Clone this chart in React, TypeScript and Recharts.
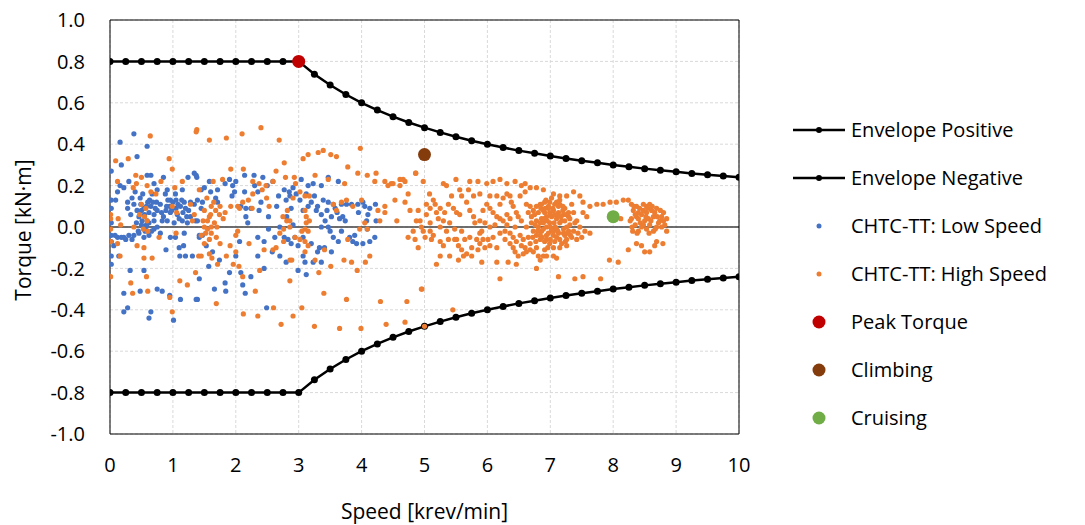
import React from 'react';
import { ScatterChart, Scatter, XAxis, YAxis, CartesianGrid, ReferenceLine, Label } from 'recharts';

const envelopeSpeed = [0, 0.25, 0.5, 0.75, 1, 1.25, 1.5, 1.75, 2, 2.25, 2.5, 2.75, 3, 3.25, 3.5, 3.75, 4, 4.25, 4.5, 4.75, 5, 5.25, 5.5, 5.75, 6, 6.25, 6.5, 6.75, 7, 7.25, 7.5, 7.75, 8, 8.25, 8.5, 8.75, 9, 9.25, 9.5, 9.75, 10];
const envelopePositive = [0.8, 0.8, 0.8, 0.8, 0.8, 0.8, 0.8, 0.8, 0.8, 0.8, 0.8, 0.8, 0.8, 0.738, 0.686, 0.64, 0.6, 0.565, 0.533, 0.505, 0.48, 0.457, 0.436, 0.417, 0.4, 0.384, 0.369, 0.356, 0.343, 0.331, 0.32, 0.31, 0.3, 0.291, 0.282, 0.274, 0.267, 0.259, 0.253, 0.246, 0.24];
const envelopeNegative = [-0.8, -0.8, -0.8, -0.8, -0.8, -0.8, -0.8, -0.8, -0.8, -0.8, -0.8, -0.8, -0.8, -0.738, -0.686, -0.64, -0.6, -0.565, -0.533, -0.505, -0.48, -0.457, -0.436, -0.417, -0.4, -0.384, -0.369, -0.356, -0.343, -0.331, -0.32, -0.31, -0.3, -0.291, -0.282, -0.274, -0.267, -0.259, -0.253, -0.246, -0.24];

const lowSpeedTorque: [number, number][] = [
  [0.38, 0.45], [0.16, 0.41], [0.59, 0.39], [0.18, 0.30], [0.43, 0.34], [0.02, 0.27], [0.59, 0.25], [0.65, 0.25], [0.85, 0.24], [1.34, 0.26],
  [1.38, 0.24], [1.24, 0.24], [0.22, 0.19], [0.12, 0.17], [0.02, 0.13], [0.09, 0.13], [0.28, 0.12], [0.38, 0.11], [0.49, 0.11], [0.70, 0.21],
  [0.75, 0.18], [0.67, 0.16], [0.91, 0.18], [0.96, 0.13], [1.04, 0.16], [1.15, 0.18], [1.18, 0.12], [1.28, 0.12], [1.34, 0.11], [1.39, 0.13],
  [0.28, 0.09], [0.43, 0.08], [0.54, 0.09], [0.65, 0.10], [0.75, 0.08], [0.89, 0.08], [0.96, 0.07], [1.07, 0.06], [1.20, 0.09], [1.28, 0.05],
  [1.36, 0.03], [0.46, 0.05], [0.51, 0.03], [0.59, 0.03], [0.57, 0.00], [0.70, 0.03], [0.83, 0.03], [0.91, 0.03], [1.02, 0.02], [1.15, 0.03],
  [1.23, 0.02], [0.12, -0.05], [0.22, -0.05], [0.30, -0.04], [0.38, -0.04], [0.46, -0.03], [0.54, -0.05], [0.62, -0.04], [0.70, -0.01], [0.96, -0.05],
  [1.04, -0.05], [1.18, -0.03], [0.02, -0.04], [0.02, -0.14], [0.02, -0.18], [0.14, -0.14], [0.32, -0.21], [0.54, -0.21], [0.89, -0.11], [1.10, -0.10],
  [1.17, -0.09], [1.11, -0.14], [1.20, -0.14], [1.31, -0.14], [0.22, -0.32], [0.48, -0.31], [0.75, -0.30], [0.83, -0.31], [0.95, -0.33], [1.12, -0.35],
  [1.39, -0.35], [0.28, -0.39], [0.22, -0.41], [0.65, -0.41], [0.62, -0.44], [1.01, -0.45], [0.02, 0.09], [0.02, 0.02], [1.42, -0.05],
  [0.55, 0.06], [0.60, 0.12], [0.62, 0.07], [0.48, 0.14], [0.70, 0.06], [0.80, 0.11], [0.85, 0.05], [0.95, 0.10], [1.00, 0.12], [1.05, 0.09],
  [1.10, 0.04], [1.12, 0.10], [1.16, 0.07], [1.22, 0.05], [1.05, 0.13], [0.92, 0.13], [0.40, 0.17], [0.33, 0.06], [0.58, 0.01], [0.66, -0.02],
  [0.45, -0.02], [0.06, -0.09], [0.02, -0.07], [0.16, 0.20], [0.30, 0.22], [0.35, 0.14], [0.52, 0.16], [0.63, 0.13], [0.74, 0.12], [0.88, 0.16],
  [0.50, 0.08], [0.58, 0.10], [0.68, 0.12], [0.72, 0.09], [0.82, 0.07], [0.90, 0.10], [0.98, 0.08], [1.08, 0.11], [1.14, 0.13], [1.25, 0.08],
  [0.56, -0.02], [0.62, 0.02], [0.50, 0.01], [0.42, 0.02], [0.75, 0.00], [0.80, -0.03], [0.35, -0.06], [0.25, -0.06], [0.18, -0.05], [0.08, -0.04],
  [1.37, 0.25], [1.58, 0.22], [1.50, 0.19], [1.45, 0.18], [1.71, 0.18], [1.90, 0.23], [1.83, 0.21], [2.00, 0.22], [2.14, 0.25], [2.29, 0.25],
  [2.43, 0.24], [2.59, 0.22], [2.35, 0.17], [1.98, 0.17], [1.94, 0.15], [2.14, 0.17], [1.68, 0.14], [1.71, 0.12], [1.47, 0.12], [1.45, 0.09],
  [1.39, 0.03], [2.08, 0.10], [2.16, 0.09], [2.24, 0.09], [2.37, 0.08], [2.16, 0.05], [2.19, 0.02], [2.52, 0.05], [2.52, -0.01], [2.68, 0.15],
  [2.80, 0.13], [2.77, 0.18], [2.85, 0.17], [2.81, 0.05], [2.77, -0.05], [2.83, -0.06], [1.42, -0.04], [1.47, -0.04], [1.53, -0.09], [1.63, -0.12],
  [1.74, -0.16], [2.06, -0.07], [2.35, -0.05], [2.45, -0.07], [2.00, -0.14], [2.58, -0.12], [2.70, -0.14], [2.80, -0.17], [2.35, -0.14], [2.45, -0.20],
  [1.57, -0.19], [1.42, -0.25], [1.90, -0.22], [2.08, -0.22], [1.83, -0.27], [1.84, -0.31], [2.11, -0.28], [2.15, -0.32], [2.24, -0.24], [1.66, -0.30],
  [1.37, -0.35], [2.49, -0.39], [2.30, 0.20], [2.50, 0.20], [1.95, 0.20], [1.60, 0.17], [2.65, 0.10], [2.70, 0.00], [2.62, -0.05], [2.40, 0.12],
  [3.04, 0.23], [2.91, 0.19], [2.96, 0.16], [3.15, 0.20], [3.23, 0.21], [3.36, 0.20], [3.63, 0.22], [3.47, 0.24], [2.86, 0.15], [2.88, 0.09],
  [3.02, 0.13], [3.12, 0.16], [3.25, 0.15], [3.39, 0.13], [3.47, 0.12], [3.55, 0.11], [3.68, 0.11], [3.76, 0.11], [3.84, 0.11], [3.94, 0.11],
  [4.05, 0.10], [4.13, 0.09], [4.22, 0.11], [4.10, 0.06], [4.08, 0.03], [4.09, -0.01], [4.23, 0.03], [4.21, -0.05], [3.07, 0.08], [3.15, 0.10],
  [3.28, 0.08], [3.36, 0.06], [3.42, 0.03], [3.47, 0.00], [3.52, 0.05], [3.61, 0.07], [3.70, 0.05], [3.74, 0.03], [3.68, -0.02], [3.63, -0.07],
  [3.81, -0.05], [3.89, -0.04], [3.92, -0.08], [4.02, -0.08], [4.13, -0.07], [2.91, 0.01], [2.94, -0.05], [2.99, -0.09], [2.88, -0.08], [3.07, -0.05],
  [3.07, -0.14], [3.10, -0.17], [3.23, -0.17], [3.36, -0.17], [3.33, -0.10], [3.41, -0.10], [3.52, -0.12], [2.99, -0.21], [3.12, -0.23], [3.36, 0.00],
  [3.20, 0.12], [3.30, 0.10], [3.45, 0.08], [3.58, 0.09], [3.65, 0.04], [3.50, -0.02], [3.55, -0.05], [3.30, -0.12], [3.20, -0.08], [3.95, 0.07],
  [4.02, 0.12], [3.86, -0.07],
];

const highSpeedTorque: [number, number][] = [
  [0.64, 0.44], [1.38, 0.47], [0.09, 0.32], [0.29, 0.33], [0.94, 0.33], [0.99, 0.28], [0.41, 0.25], [0.50, 0.24], [0.12, 0.22], [0.42, 0.21],
  [0.37, 0.19], [0.59, 0.20], [0.81, 0.22], [1.15, 0.22], [0.65, 0.17], [0.73, 0.16], [1.03, 0.19], [0.50, 0.11], [0.57, 0.09], [0.01, 0.06],
  [0.01, 0.04], [0.13, 0.04], [0.17, 0.01], [0.38, 0.00], [0.53, -0.01], [0.59, 0.03], [0.99, 0.10], [1.06, 0.07], [1.28, 0.11], [1.34, 0.06],
  [1.31, 0.03], [0.01, -0.01], [0.01, -0.07], [0.12, -0.08], [0.43, -0.09], [0.54, -0.10], [0.54, -0.15], [0.67, -0.15], [0.78, -0.05], [1.05, -0.03],
  [0.16, -0.14], [0.01, -0.24], [0.58, -0.24], [0.33, -0.27], [1.11, -0.26], [1.23, -0.28], [1.36, -0.22], [0.36, -0.32], [0.60, -0.31], [0.95, -0.34],
  [0.99, -0.41], [1.41, -0.14], [0.55, 0.05], [0.60, -0.02], [0.47, 0.06],
  [1.37, 0.46], [1.58, 0.42], [1.85, 0.43], [2.10, 0.45], [2.40, 0.48], [2.69, 0.42], [1.92, 0.28], [2.12, 0.28], [2.77, 0.31], [2.64, 0.27],
  [1.64, 0.22], [1.79, 0.23], [2.27, 0.22], [2.37, 0.21], [2.48, 0.20], [2.42, 0.18], [2.59, 0.22], [2.79, 0.24], [1.42, 0.18], [1.54, 0.14],
  [2.49, 0.14], [2.27, 0.16], [2.20, 0.13], [2.11, 0.12], [2.03, 0.10], [1.92, 0.10], [1.61, 0.10], [1.68, 0.08], [1.75, 0.10], [1.83, 0.07],
  [1.74, 0.06], [1.80, 0.04], [1.58, 0.05], [1.55, 0.03], [1.50, 0.00], [1.61, 0.00], [1.66, 0.02], [1.52, -0.03], [1.61, -0.03], [1.69, -0.05],
  [1.58, -0.06], [1.45, -0.04], [1.48, 0.03], [2.06, 0.09], [2.26, 0.09], [2.53, 0.10], [2.03, -0.02], [2.00, -0.04], [1.91, -0.09], [2.00, -0.12],
  [2.21, -0.08], [1.45, -0.14], [1.58, -0.13], [1.71, -0.18], [1.85, -0.14], [1.96, -0.18], [2.05, -0.19], [2.11, -0.24], [2.38, -0.21], [2.45, -0.11],
  [2.59, -0.11], [2.64, -0.10], [2.76, -0.07], [2.76, -0.01], [2.81, 0.03], [2.86, -0.16], [2.86, -0.26], [2.31, -0.31], [1.69, -0.37], [2.12, -0.42],
  [2.35, -0.43], [2.60, -0.39], [2.72, -0.47], [1.50, 0.08], [1.60, 0.06], [1.65, 0.12], [1.55, -0.01], [1.70, 0.00], [1.75, -0.08], [1.50, -0.08],
  [1.62, -0.15], [2.75, 0.05], [2.70, -0.03], [2.82, 0.08],
  [3.07, 0.33], [3.15, 0.35], [3.31, 0.36], [3.39, 0.37], [3.51, 0.35], [3.60, 0.34], [3.98, 0.38], [3.78, 0.29], [3.94, 0.26], [4.09, 0.25],
  [4.23, 0.26], [4.21, 0.22], [4.37, 0.22], [4.47, 0.21], [4.42, 0.20], [3.26, 0.25], [3.47, 0.23], [3.73, 0.21], [2.93, 0.24], [2.95, 0.21],
  [3.02, 0.17], [2.91, 0.14], [3.10, 0.15], [3.17, 0.15], [3.10, 0.08], [3.12, 0.05], [3.17, 0.03], [3.10, -0.01], [3.15, -0.02], [2.86, 0.03],
  [2.86, 0.00], [3.55, 0.11], [3.60, 0.08], [3.68, 0.12], [3.76, 0.13], [3.86, 0.10], [4.00, 0.13], [4.26, 0.08], [4.37, 0.10], [4.29, 0.03],
  [4.37, 0.07], [4.05, 0.02], [3.97, -0.01], [4.09, -0.01], [3.78, -0.06], [2.94, -0.05], [3.02, -0.06], [3.10, -0.07], [3.15, -0.09], [3.10, -0.12],
  [3.41, -0.11], [3.26, -0.16], [2.89, -0.16], [3.51, -0.19], [3.72, -0.16], [3.84, -0.17], [3.93, -0.21], [4.06, -0.17], [4.13, -0.14], [3.32, -0.22],
  [3.40, -0.32], [3.76, -0.35], [4.30, -0.36], [3.05, -0.39], [2.91, -0.43], [3.25, -0.48], [3.65, -0.49], [3.99, -0.49], [4.39, -0.47],
  [3.12, 0.02], [3.05, -0.02],
  [4.50, 0.21], [4.61, 0.23], [4.69, 0.22], [4.61, 0.20], [4.86, 0.26], [4.98, 0.22], [5.08, 0.16], [5.30, 0.21], [5.35, 0.20], [5.50, 0.23],
  [5.56, 0.18], [5.72, 0.22], [5.85, 0.22], [5.99, 0.21], [6.09, 0.22], [6.20, 0.23], [6.31, 0.21], [6.44, 0.22], [6.54, 0.20], [6.60, 0.21],
  [6.68, 0.19], [6.78, 0.19], [6.89, 0.18], [7.05, 0.16], [7.15, 0.15], [7.26, 0.15], [7.37, 0.17], [7.47, 0.15], [7.52, 0.12],
  [7.63, 0.10], [7.74, 0.11], [7.84, 0.11], [7.95, 0.12], [8.05, 0.12], [8.16, 0.13], [8.24, 0.13], [8.29, 0.11], [7.52, 0.07], [7.58, 0.05],
  [7.63, -0.03], [8.12, 0.04],
  [8.32, 0.08], [8.37, 0.10], [8.48, 0.11], [8.58, 0.11], [8.69, 0.09], [8.80, 0.07], [8.85, 0.04], [8.29, 0.04], [8.37, 0.05], [8.45, 0.06],
  [8.53, 0.07], [8.64, 0.05], [8.74, 0.03], [8.35, 0.01], [8.43, 0.02], [8.50, 0.03], [8.58, 0.01], [8.69, 0.00], [8.77, 0.00], [8.31, -0.02],
  [8.40, -0.02], [8.53, -0.01], [8.64, -0.02], [8.85, -0.02], [8.48, 0.08], [8.56, 0.04], [8.66, 0.07], [8.40, 0.07], [8.72, 0.02], [8.27, 0.03],
  [8.61, 0.08], [8.48, 0.01], [8.80, 0.03], [8.35, 0.06], [8.53, 0.10], [8.33, 0.10], [8.42, 0.09], [8.55, 0.09], [8.62, 0.10], [8.70, 0.05],
  [8.77, 0.05], [8.82, 0.01], [8.30, 0.00], [8.45, 0.00], [8.60, 0.03], [8.40, 0.04], [8.52, 0.05], [8.67, -0.01], [8.75, 0.08], [8.38, -0.03],
  [8.57, -0.03],
  [8.24, -0.11], [8.37, -0.08], [8.45, -0.09], [8.50, -0.12], [8.58, -0.12], [8.66, -0.09], [8.69, -0.07], [8.79, -0.08], [7.94, -0.16], [8.08, -0.17],
  [6.20, -0.25], [6.78, -0.20], [7.13, -0.24], [7.39, -0.25], [7.52, -0.24], [7.80, -0.25], [4.95, -0.30], [5.19, -0.18], [5.91, -0.17], [6.15, -0.17],
  [6.33, -0.17], [6.46, -0.18], [6.62, -0.12],
  [4.69, 0.12], [4.74, 0.16], [4.90, 0.08], [4.93, 0.03], [4.87, 0.03], [5.09, 0.09], [5.03, 0.11], [5.14, 0.13], [5.17, 0.11], [5.25, 0.09],
  [5.32, 0.07], [5.38, 0.11], [5.43, 0.15], [5.46, 0.09], [5.51, 0.07], [5.56, 0.06], [5.59, 0.15], [5.67, 0.12], [5.72, 0.08], [5.78, 0.05],
  [5.80, 0.02], [5.88, 0.03], [5.93, 0.08], [4.95, 0.00], [4.98, -0.02], [5.01, -0.05], [5.14, -0.04], [5.11, -0.06], [5.25, -0.07], [5.30, -0.09],
  [5.38, -0.06], [5.48, -0.06], [5.54, -0.09], [5.59, -0.11], [5.67, -0.13], [5.75, -0.14], [5.85, -0.11], [5.59, -0.02], [5.48, -0.01], [5.35, -0.02],
  [5.25, 0.00], [5.09, 0.02], [5.22, 0.04], [5.30, 0.03], [5.40, 0.02], [5.19, 0.07], [5.51, -0.06], [5.64, -0.06], [5.72, -0.05], [5.83, -0.06],
  [5.88, -0.03], [5.09, -0.02], [5.03, 0.06], [4.82, -0.02], [4.85, -0.06], [5.40, -0.14], [5.54, -0.16], [5.62, -0.14], [5.75, -0.10],
  [4.56, 0.03], [4.77, 0.08], [4.74, -0.05], [4.90, -0.10], [5.25, -0.14], [4.53, 0.13],
  [5.99, 0.11], [6.04, 0.09], [6.09, 0.07], [6.15, 0.05], [6.20, 0.04], [6.25, 0.03], [6.31, 0.01], [6.28, -0.02], [6.20, -0.03], [6.09, -0.05],
  [6.01, -0.06], [5.93, -0.06], [6.04, 0.00], [5.96, 0.02], [5.91, -0.02], [6.12, 0.01], [6.36, -0.03], [6.41, -0.05], [6.46, -0.07], [6.54, -0.09],
  [6.60, -0.10], [6.68, -0.11], [6.73, -0.12], [6.81, -0.14], [6.89, -0.14], [6.52, -0.04], [6.57, -0.06], [6.41, -0.10], [6.36, -0.08], [6.28, -0.06],
  [6.31, 0.16], [6.36, 0.15], [6.38, 0.12], [6.41, 0.10], [6.46, 0.07], [6.49, 0.05], [6.54, 0.03], [6.52, 0.15], [6.60, 0.17], [6.62, 0.11],
  [6.68, 0.10], [6.20, 0.11], [6.25, 0.14], [6.15, 0.15], [6.04, 0.15], [5.88, 0.16], [5.78, 0.15], [5.70, 0.18], [6.36, 0.04], [6.44, 0.00],
  [6.31, 0.06], [6.15, -0.10], [6.04, -0.09], [5.96, -0.10], [5.88, -0.08],
  [6.73, 0.08], [6.78, 0.10], [6.84, 0.11], [6.91, 0.12], [6.99, 0.12], [7.07, 0.11], [7.15, 0.11], [7.23, 0.09], [7.29, 0.07], [7.31, 0.04],
  [7.31, 0.01], [7.29, -0.02], [7.23, -0.04], [7.15, -0.06], [7.07, -0.07], [6.99, -0.08], [6.91, -0.07], [6.84, -0.06], [6.78, -0.04], [6.73, -0.02],
  [6.70, 0.02], [6.70, 0.05], [6.81, 0.07], [6.89, 0.08], [6.97, 0.09], [7.05, 0.08], [7.13, 0.07], [7.21, 0.06], [7.23, 0.03], [7.21, -0.01],
  [7.13, -0.03], [7.05, -0.04], [6.94, -0.04], [6.86, -0.02], [6.81, 0.00], [6.78, 0.03], [6.86, 0.04], [6.94, 0.05], [7.02, 0.05], [7.10, 0.04],
  [7.15, 0.02], [7.10, -0.01], [7.02, -0.01], [6.94, 0.00], [6.89, 0.02], [6.99, 0.02], [7.06, 0.02], [6.91, 0.07], [7.18, -0.08], [7.26, -0.06],
  [7.34, -0.05], [7.37, -0.02], [7.39, 0.02], [7.37, 0.07], [7.34, 0.11], [6.65, 0.07], [6.62, 0.00], [6.65, -0.05], [6.68, -0.08], [7.42, 0.03],
  [7.47, 0.00], [7.44, -0.03], [7.42, -0.06], [7.50, -0.05], [7.55, -0.02], [6.97, 0.10], [7.13, 0.10], [6.76, 0.01], [6.84, -0.04], [7.26, 0.00],
  [6.94, -0.06], [7.10, -0.05], [6.99, 0.07], [7.07, 0.06], [7.18, 0.03], [6.84, 0.02], [7.02, -0.02], [6.89, -0.01], [7.21, -0.03], [7.29, 0.05],
  [6.86, 0.11], [6.95, 0.03], [7.00, 0.06], [7.04, 0.09], [7.08, 0.00], [7.12, -0.02], [6.97, -0.03], [6.92, 0.09], [7.17, 0.05], [7.20, 0.08],
  [7.25, 0.06], [6.75, 0.06], [6.80, -0.02], [6.87, -0.05], [7.00, -0.06], [7.10, 0.12], [6.93, 0.13], [7.02, 0.14], [7.15, 0.13], [7.27, -0.03],
  [7.32, -0.04], [6.72, -0.05], [6.77, -0.07], [7.00, 0.00], [7.05, -0.02], [6.90, 0.04], [7.12, 0.06], [7.20, 0.10], [6.85, 0.09], [7.24, -0.07],
  [6.96, -0.10],
  [6.78, -0.10], [6.91, -0.11], [7.05, -0.10], [7.15, -0.10], [7.26, -0.09], [6.94, -0.14], [7.05, -0.14], [7.10, -0.15], [6.84, -0.16], [6.57, -0.13],
  [6.49, -0.14], [6.44, -0.12],
  [4.72, -0.36], [4.69, -0.46], [4.96, -0.30], [5.45, -0.40], [5.0, -0.48], [4.86, 0.26], [4.66, 0.23],
];

const peakTorque: [number, number][] = [[3, 0.8]];
const climbing: [number, number][] = [[5, 0.35]];
const cruising: [number, number][] = [[8, 0.05]];

const speedTicks = [0, 1, 2, 3, 4, 5, 6, 7, 8, 9, 10];
const torqueTicks = [-1, -0.8, -0.6, -0.4, -0.2, 0, 0.2, 0.4, 0.6, 0.8, 1];

const COLORS = {
  envelope: '#000000',
  low: '#4472C4',
  high: '#ED7D31',
  peak: '#C00000',
  climbing: '#843C0C',
  cruising: '#70AD47',
};

const FONT = '"Open Sans", Lato, sans-serif';

const toPts = (a: [number, number][]) => a.map(([x, y]) => ({ x, y }));
const envPos = envelopeSpeed.map((x, i) => ({ x, y: envelopePositive[i] }));
const envNeg = envelopeSpeed.map((x, i) => ({ x, y: envelopeNegative[i] }));

const dot = (r: number, color: string) => (props: any) =>
  props.cx == null || props.cy == null ? <g /> : <circle cx={props.cx} cy={props.cy} r={r} fill={color} />;

const legendItems = [
  { label: 'Envelope Positive', kind: 'line', color: COLORS.envelope, r: 3 },
  { label: 'Envelope Negative', kind: 'line', color: COLORS.envelope, r: 3 },
  { label: 'CHTC-TT: Low Speed', kind: 'dot', color: COLORS.low, r: 2.5 },
  { label: 'CHTC-TT: High Speed', kind: 'dot', color: COLORS.high, r: 2.5 },
  { label: 'Peak Torque', kind: 'dot', color: COLORS.peak, r: 6.5 },
  { label: 'Climbing', kind: 'dot', color: COLORS.climbing, r: 6.5 },
  { label: 'Cruising', kind: 'dot', color: COLORS.cruising, r: 6.5 },
];

const SMALL_R = 2.6;

export default function App() {
  const W = 1077;
  const H = 525;
  return (
    <div style={{ position: 'relative', width: W, height: H, marginTop: -8, fontFamily: FONT }}>
      <ScatterChart width={W} height={H} margin={{ top: 20, right: 346, bottom: 31, left: 0 }}>
        <CartesianGrid stroke="#D9D9D9" strokeDasharray="3 2" />
        <XAxis
          type="number"
          dataKey="x"
          domain={[0, 10]}
          ticks={speedTicks}
          allowDataOverflow
          height={60}
          tickLine={false}
          axisLine={{ stroke: '#000', strokeWidth: 1 }}
          tick={{ fill: '#000', fontSize: 20, fontFamily: FONT }}
          tickMargin={18}
        >
          <Label
            content={(p: any) => {
              const vb = p.viewBox || {};
              return (
                <text x={vb.x + vb.width / 2} y={vb.y + 77} textAnchor="middle" dominantBaseline="central" fill="#000" fontSize={21} fontFamily={FONT}>
                  Speed [krev/min]
                </text>
              );
            }}
          />
        </XAxis>
        <YAxis
          type="number"
          dataKey="y"
          domain={[-1, 1]}
          ticks={torqueTicks}
          allowDataOverflow
          width={102}
          tickLine={false}
          axisLine={{ stroke: '#000', strokeWidth: 1 }}
          tick={{ fill: '#000', fontSize: 20, fontFamily: FONT }}
          tickMargin={19}
          tickFormatter={(v: number) => v.toFixed(1)}
        >
          <Label
            content={(p: any) => {
              const vb = p.viewBox || {};
              const cx = 15;
              const cy = vb.y + vb.height / 2 + 3;
              return (
                <text x={cx} y={cy} transform={`rotate(-90, ${cx}, ${cy})`} textAnchor="middle" dominantBaseline="central" fill="#000" fontSize={21} fontFamily={FONT}>
                  Torque [kN·m]
                </text>
              );
            }}
          />
        </YAxis>
        <ReferenceLine y={0} stroke="#404040" strokeWidth={1.5} />
        <ReferenceLine y={1} stroke="#000" strokeWidth={1} />
        <ReferenceLine x={10} stroke="#000" strokeWidth={1} />
        <Scatter name="Envelope Positive" data={envPos} fill={COLORS.envelope} line={{ stroke: COLORS.envelope, strokeWidth: 2.5 }} shape={dot(3.5, COLORS.envelope)} isAnimationActive={false} />
        <Scatter name="Envelope Negative" data={envNeg} fill={COLORS.envelope} line={{ stroke: COLORS.envelope, strokeWidth: 2.5 }} shape={dot(3.5, COLORS.envelope)} isAnimationActive={false} />
        <Scatter name="CHTC-TT: Low Speed" data={toPts(lowSpeedTorque)} fill={COLORS.low} shape={dot(SMALL_R, COLORS.low)} isAnimationActive={false} />
        <Scatter name="CHTC-TT: High Speed" data={toPts(highSpeedTorque)} fill={COLORS.high} shape={dot(SMALL_R, COLORS.high)} isAnimationActive={false} />
        <Scatter name="Peak Torque" data={toPts(peakTorque)} fill={COLORS.peak} shape={dot(6.5, COLORS.peak)} isAnimationActive={false} />
        <Scatter name="Climbing" data={toPts(climbing)} fill={COLORS.climbing} shape={dot(6.5, COLORS.climbing)} isAnimationActive={false} />
        <Scatter name="Cruising" data={toPts(cruising)} fill={COLORS.cruising} shape={dot(6.5, COLORS.cruising)} isAnimationActive={false} />
      </ScatterChart>
      <div style={{ position: 'absolute', left: 780, top: 106, width: 300 }}>
        {legendItems.map((it) => (
          <div key={it.label} style={{ height: 48, display: 'flex', alignItems: 'center' }}>
            <svg width={63} height={48} style={{ flex: 'none' }}>
              {it.kind === 'line' && <line x1={5} y1={24} x2={57} y2={24} stroke={it.color} strokeWidth={2.5} />}
              <circle cx={31} cy={24} r={it.r} fill={it.color} />
            </svg>
            <span style={{ fontSize: 20, color: '#000', whiteSpace: 'nowrap', lineHeight: '48px' }}>{it.label}</span>
          </div>
        ))}
      </div>
    </div>
  );
}
